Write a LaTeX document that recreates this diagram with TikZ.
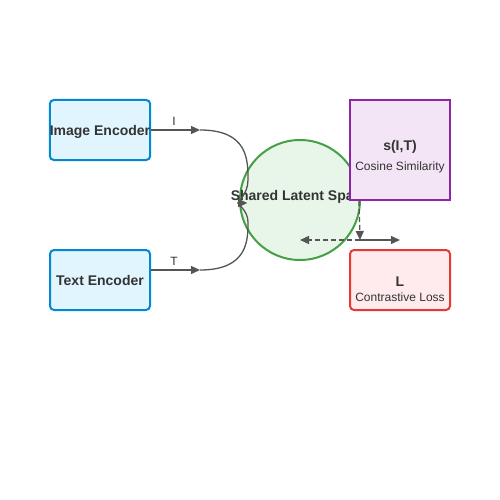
\documentclass[tikz,border=0pt]{standalone}
\usepackage{fontspec}
\setmainfont{Liberation Sans}
\usetikzlibrary{calc,positioning,arrows.meta}
\definecolor{encline}{HTML}{0288D1}
\definecolor{encfill}{HTML}{E1F5FE}
\definecolor{latline}{HTML}{43A047}
\definecolor{latfill}{HTML}{E8F5E9}
\definecolor{simline}{HTML}{8E24AA}
\definecolor{simfill}{HTML}{F3E5F5}
\definecolor{lossline}{HTML}{E53935}
\definecolor{lossfill}{HTML}{FFEBEE}
\definecolor{txt}{HTML}{333333}
\definecolor{arr}{HTML}{555555}
\tikzset{
	encoder/.style={draw=encline, fill=encfill, line width=2pt, rounded corners=4pt,
		minimum width=100pt, minimum height=60pt, inner sep=0pt, text=txt,
		text height=11pt, text depth=0pt,
		font=\bfseries\fontsize{14}{16}\selectfont},
	latent/.style={circle, draw=latline, fill=latfill, line width=2pt,
		minimum size=120pt, inner sep=0pt},
	simbox/.style={draw=simline, fill=simfill, line width=2pt,
		minimum width=100pt, minimum height=100pt, inner sep=0pt},
	lossbox/.style={draw=lossline, fill=lossfill, line width=2pt, rounded corners=4pt,
		minimum width=100pt, minimum height=60pt, inner sep=0pt},
	head/.style={text=txt, font=\bfseries\fontsize{14}{16}\selectfont, inner sep=0pt},
	sub/.style={text=txt, font=\fontsize{12}{14}\selectfont, inner sep=0pt},
	conn/.style={draw=arr, line width=1.3pt, -{Triangle[length=9pt,width=8pt]}},
	dashline/.style={dash pattern=on 5pt off 3pt}
}

\begin{document}
\begin{tikzpicture}[x=1pt,y=-1pt]
		\useasboundingbox[fill=white] (0,0) rectangle (500,500);
		% encoders
		\node[encoder] (img) at (100,130) {Image Encoder};
		\node[encoder] (txtenc) at (100,280) {Text Encoder};
		% shared space
		\node[latent] (lat) at (300,200) {};
		\node[head] (latlabel) at (300,197) {Shared Latent Space};
		% similarity and loss
		\node[simbox] (sim) at (400,150) {};
		\node[head] (simhead) at (400,147) {s(I,T)};
		\node[sub] (simsub) at (400,167) {Cosine Similarity};
		\node[lossbox] (loss) at (400,280) {};
		\node[head] (losshead) at (400,282) {L};
		\node[sub] (losssub) at (400,297) {Contrastive Loss};
		% points on the way
		\coordinate (i1) at (200,130);
		\coordinate (t1) at (200,270);
		\coordinate (c1) at ($(lat.west)+(8,3)$);
		\coordinate (d1) at ($(sim.south west)+(10,0)$);
		\coordinate (d2) at (360,240);
		\coordinate (d3) at (lat.center |- d2);
		\coordinate (d4) at (loss.north |- d2);
		% embeddings into the shared space
		\draw[conn] (img.east) -- (i1);
		\node[sub] (ilabel) at (174,121) {I};
		\draw[conn] (i1) .. controls (248,130) and (248,160) .. (248,180)
			.. controls (248,195) and (236,203) .. (c1);
		\draw[conn] ($(txtenc.east)+(0,-10)$) -- (t1);
		\node[sub] (tlabel) at (174,261) {T};
		\draw[conn] (t1) .. controls (248,270) and (248,240) .. (248,222)
			.. controls (248,210) and (236,203) .. (c1);
		% similarity to loss
		\draw[conn, dashline] (d1) -- (d2);
		\draw[conn, dashline] (d2) -- (d3);
		\draw[conn] (d2) -- (d4);
\end{tikzpicture}
\end{document}
